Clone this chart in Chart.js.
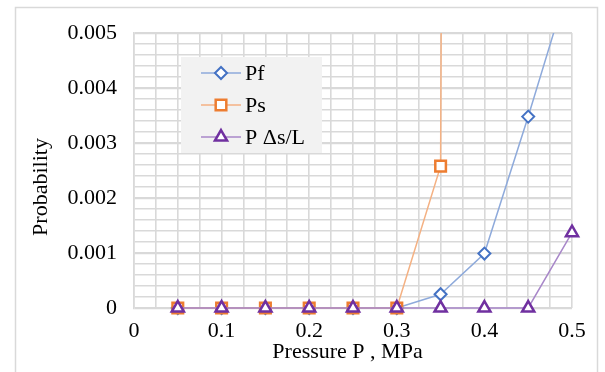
<!DOCTYPE html>
<html>
<head>
<meta charset="utf-8">
<script src="https://cdn.jsdelivr.net/npm/chart.js@4"></script>
<style>
  html, body { margin: 0; padding: 0; background: #fff; }
  #wrap { width: 605px; height: 372px; position: relative; }
</style>
</head>
<body>
<div id="wrap"><canvas id="myChart" width="605" height="372"></canvas></div>
<script>
// values
const pressure = [0.05, 0.1, 0.15, 0.2, 0.25, 0.3, 0.35, 0.4, 0.45, 0.5];
const pf = [0, 0, 0, 0, 0, 0, 0.00025, 0.00099, 0.00348, 0.0061];
const ps = [0, 0, 0, 0, 0, 0, 0.00258, 0.2, null, null];
const pds = [0, 0, 0, 0, 0, 0, 0, 0, 0, 0.00137];
const xTickLabels = ['0', '0.1', '0.2', '0.3', '0.4', '0.5'];
const yTickLabels = ['0', '0.001', '0.002', '0.003', '0.004', '0.005'];

const serif = "'Liberation Serif', 'Times New Roman', serif";
const gridColor = '#d9d9d9';
const nb = '\u00a0';

function pts(arr) {
    return pressure.map((p, i) => ({ x: p, y: arr[i] }));
}

// legend box drawn inside the plot, like the original
const boxLegend = {
    id: 'boxLegend',
    beforeDatasetsDraw(chart) {
        const ctx = chart.ctx;
        const a = chart.chartArea;
        const x0 = a.left + 47, y0 = a.top + 24;
        ctx.save();
        ctx.fillStyle = '#f2f2f2';
        ctx.fillRect(x0, y0, 141, 96);
        ctx.font = '22px ' + serif;
        ctx.textBaseline = 'middle';
        chart.data.datasets.forEach((ds, i) => {
            const cy = y0 + 16 + i * 32;
            ctx.strokeStyle = ds.borderColor;
            ctx.lineWidth = ds.borderWidth;
            ctx.beginPath();
            ctx.moveTo(x0 + 20, cy);
            ctx.lineTo(x0 + 60, cy);
            ctx.stroke();
            ctx.fillStyle = '#fff';
            ctx.strokeStyle = ds.pointBorderColor;
            ctx.lineWidth = ds.pointBorderWidth;
            Chart.helpers.drawPoint(ctx, {
                pointStyle: ds.pointStyle, radius: ds.pointRadius, borderWidth: ds.pointBorderWidth
            }, x0 + 40, cy);
            ctx.fillStyle = '#000';
            ctx.fillText(ds.label, x0 + 64, cy + 1);
        });
        ctx.restore();
    }
};

// thin gray frame round the whole chart
const frame = {
    id: 'frame',
    beforeDraw(chart) {
        const ctx = chart.ctx;
        ctx.save();
        ctx.strokeStyle = '#d9d9d9';
        ctx.lineWidth = 1.5;
        ctx.strokeRect(15.5, 7.5, 582, 380);
        ctx.restore();
    }
};

const ctx = document.getElementById('myChart').getContext('2d');
const chart = new Chart(ctx, {
    type: 'line',
    data: {
        datasets: [{
            label: 'Pf',
            data: pts(pf),
            borderColor: '#8eaadb',
            borderWidth: 1.5,
            pointStyle: 'rectRot',
            pointRadius: 6,
            pointBorderWidth: 2,
            pointBorderColor: '#4472c4',
            pointBackgroundColor: '#fff',
            order: 3
        }, {
            label: 'Ps',
            data: pts(ps),
            borderColor: '#f4b183',
            borderWidth: 1.5,
            pointStyle: 'rect',
            pointRadius: 7.5,
            pointBorderWidth: 2.5,
            pointBorderColor: '#ed7d31',
            pointBackgroundColor: '#fff',
            order: 2
        }, {
            label: 'P \u0394s/L',
            data: pts(pds),
            borderColor: '#a887c9',
            borderWidth: 1.5,
            pointStyle: 'triangle',
            pointRadius: 7,
            pointBorderWidth: 2.5,
            pointBorderColor: '#7030a0',
            pointBackgroundColor: '#fff',
            order: 1
        }]
    },
    options: {
        responsive: false,
        animation: false,
        layout: { padding: { left: 20, right: 33, top: 33, bottom: 5 } },
        elements: { line: { tension: 0 } },
        datasets: { line: { clip: { left: 12, right: 12, top: 0, bottom: 12 } } },
        plugins: {
            legend: { display: false },
            tooltip: { enabled: false }
        },
        scales: {
            x: {
                type: 'linear',
                min: 0,
                max: 0.5,
                afterFit(s) { s.height = 59; },
                ticks: {
                    stepSize: 0.025,
                    autoSkip: false,
                    maxRotation: 0,
                    padding: 10,
                    color: '#000',
                    font: { family: serif, size: 22 },
                    callback(v) {
                        const k = Math.round(v * 1000);
                        return k % 100 === 0 ? xTickLabels[k / 100] : '';
                    }
                },
                grid: { color: gridColor, lineWidth: 1.6, drawTicks: false },
                border: { display: false },
                title: {
                    display: true,
                    text: 'Pressure P , MPa' + nb + nb,
                    color: '#000',
                    font: { family: serif, size: 22 },
                    padding: { top: 0, bottom: 2 }
                }
            },
            y: {
                min: 0,
                max: 0.005,
                afterFit(s) { s.width = 114; },
                ticks: {
                    stepSize: 0.0002,
                    autoSkip: false,
                    padding: 17,
                    color: '#000',
                    font: { family: serif, size: 22 },
                    callback(v) {
                        const k = Math.round(v * 10000);
                        return k % 10 === 0 ? yTickLabels[k / 10] : '';
                    }
                },
                grid: {
                    color: gridColor,
                    drawTicks: false,
                    lineWidth: c => (Math.round(c.tick.value * 10000) % 10 === 0 ? 2.2 : 1.6)
                },
                border: { display: true, color: gridColor, width: 1.6 },
                title: {
                    display: true,
                    text: 'Probability' + nb.repeat(6),
                    color: '#000',
                    font: { family: serif, size: 22 },
                    padding: { top: 8, bottom: 0 }
                }
            }
        }
    },
    plugins: [frame, boxLegend]
});
</script>
</body>
</html>
